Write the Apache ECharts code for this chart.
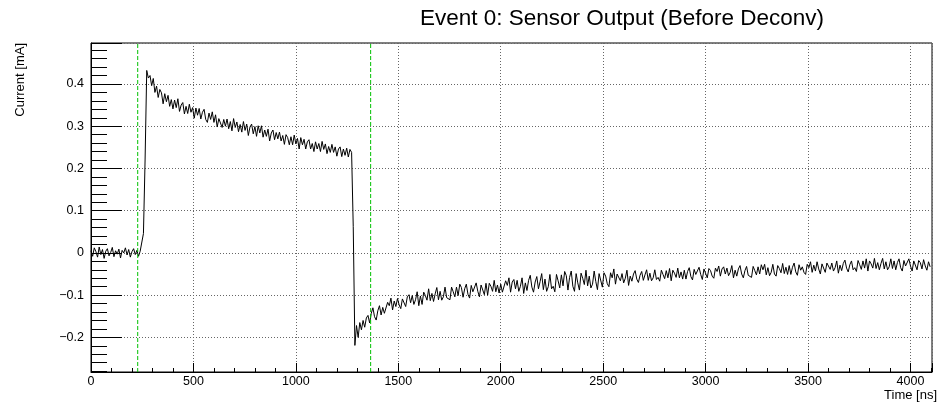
<!DOCTYPE html>
<html>
<head>
<meta charset="utf-8">
<script src="https://cdn.jsdelivr.net/npm/echarts@6/dist/echarts.min.js"></script>
<style>
html,body{margin:0;padding:0;background:#fff;}
#chart{width:938px;height:405px;}
</style>
</head>
<body>
<div id="chart"></div>
<script>
// ---- data (current in mA, one sample every SAMPLE_NS ns starting at 0) ----
const SAMPLE_NS = 8;
const baseline = [0.005,-0.008,0.012,0.003,-0.010,0.014,-0.004,0.008,-0.013,0.004,0.010,-0.007,0.001,0.013,-0.009,0.005,-0.003,0.009,-0.012,0.006,0.000,0.012,-0.005,0.008,-0.010,0.003,0.010,-0.004,0.006,-0.008,0.004,0.001];
const riseEdge = [0.046,0.220,0.432];
const decay = [
0.414,0.420,0.396,0.413,0.380,0.395,0.368,0.387,
0.379,0.353,0.377,0.358,0.373,0.347,0.363,0.341,
0.362,0.344,0.365,0.335,0.350,0.356,0.329,0.347,
0.330,0.352,0.333,0.344,0.319,0.343,0.326,0.342,
0.317,0.333,0.340,0.316,0.309,0.331,0.316,0.334,
0.309,0.327,0.298,0.318,0.321,0.297,0.316,0.300,
0.317,0.294,0.311,0.289,0.318,0.297,0.310,0.287,
0.304,0.286,0.311,0.290,0.305,0.278,0.298,0.305,
0.282,0.299,0.276,0.301,0.284,0.301,0.274,0.291,
0.276,0.293,0.265,0.284,0.291,0.268,0.285,0.270,
0.286,0.265,0.278,0.257,0.280,0.273,0.256,0.275,
0.256,0.279,0.258,0.271,0.246,0.273,0.256,0.269,
0.246,0.263,0.268,0.246,0.259,0.240,0.263,0.246,
0.259,0.240,0.264,0.245,0.258,0.235,0.252,0.238,
0.257,0.238,0.251,0.229,0.246,0.251,0.228,0.246,
0.231,0.248,0.227,0.245,0.238];
const fallEdge = [0.062,-0.219];
const undershoot = [
-0.172,-0.200,-0.165,-0.182,-0.160,-0.176,-0.154,-0.148,
-0.166,-0.143,-0.130,-0.151,-0.159,-0.137,-0.125,-0.147,
-0.129,-0.143,-0.147,-0.117,-0.125,-0.107,-0.135,-0.114,
-0.127,-0.108,-0.123,-0.132,-0.109,-0.112,-0.127,-0.104,
-0.099,-0.118,-0.101,-0.122,-0.111,-0.092,-0.125,-0.102,
-0.122,-0.093,-0.101,-0.112,-0.085,-0.113,-0.096,-0.115,
-0.097,-0.082,-0.111,-0.091,-0.112,-0.104,-0.081,-0.106,
-0.102,-0.111,-0.081,-0.092,-0.104,-0.081,-0.101,-0.074,
-0.082,-0.105,-0.085,-0.074,-0.098,-0.107,-0.077,-0.092,
-0.096,-0.071,-0.091,-0.104,-0.076,-0.079,-0.099,-0.072];
const tailMid = [
-0.100,-0.072,-0.079,-0.091,-0.065,-0.092,-0.076,-0.095,
-0.074,-0.093,-0.097,-0.066,-0.077,-0.059,-0.093,-0.069,
-0.063,-0.085,-0.065,-0.091,-0.079,-0.059,-0.096,-0.071,
-0.089,-0.065,-0.053,-0.081,-0.093,-0.069,-0.056,-0.085,
-0.068,-0.049,-0.087,-0.062,-0.091,-0.080,-0.051,-0.085,
-0.079,-0.092,-0.051,-0.066,-0.083,-0.052,-0.078,-0.044,
-0.054,-0.088,-0.058,-0.043,-0.079,-0.091,-0.049,-0.071,
-0.088,-0.048,-0.060,-0.075,-0.041,-0.078,-0.055,-0.083,
-0.074,-0.043,-0.068,-0.087,-0.049,-0.053,-0.081,-0.047,
-0.055,-0.073,-0.080,-0.047,-0.059,-0.038,-0.074,-0.050,
-0.046,-0.066,-0.049,-0.071,-0.060,-0.041,-0.077,-0.055];
const tailLate = [
-0.067,-0.050,-0.042,-0.062,-0.070,-0.053,-0.044,-0.065,
-0.052,-0.040,-0.065,-0.048,-0.066,-0.059,-0.040,-0.063,
-0.058,-0.067,-0.041,-0.051,-0.061,-0.042,-0.059,-0.037,
-0.066,-0.041,-0.048,-0.058,-0.036,-0.059,-0.045,-0.062,
-0.041,-0.062,-0.044,-0.035,-0.056,-0.064,-0.039,-0.051,
-0.055,-0.034,-0.051,-0.063,-0.038,-0.042,-0.059,-0.037,
-0.042,-0.055,-0.060,-0.036,-0.044,-0.031,-0.055,-0.038,
-0.033,-0.050,-0.036,-0.054,-0.046,-0.030,-0.059,-0.041,
-0.055,-0.038,-0.030,-0.050,-0.059,-0.042,-0.032,-0.053,
-0.049,-0.058,-0.032,-0.042,-0.052,-0.033,-0.050,-0.028,
-0.040,-0.027,-0.052,-0.035,-0.054,-0.046,-0.027,-0.050,
-0.055,-0.030,-0.037,-0.047,-0.025,-0.049,-0.034,-0.051,
-0.030,-0.051,-0.034,-0.024,-0.045,-0.053,-0.028,-0.041,
-0.033,-0.046,-0.051,-0.027,-0.035,-0.021,-0.046,-0.029,
-0.043,-0.021,-0.038,-0.050,-0.026,-0.029,-0.046,-0.024,
-0.022,-0.039,-0.024,-0.043,-0.035,-0.019,-0.048,-0.029,
-0.042,-0.025,-0.017,-0.036,-0.045,-0.028,-0.019,-0.040,
-0.035,-0.044,-0.018,-0.028,-0.039,-0.019,-0.036,-0.014,
-0.043,-0.019,-0.026,-0.036,-0.013,-0.037,-0.023,-0.040,
-0.025,-0.013,-0.038,-0.021,-0.040,-0.033,-0.014,-0.037,
-0.019,-0.040,-0.023,-0.014,-0.035,-0.043,-0.018,-0.031,
-0.035,-0.014,-0.031,-0.043,-0.019,-0.023,-0.040,-0.018,
-0.023,-0.038,-0.016,-0.031,-0.041,-0.021,-0.033];
const windowMarks = [228, 1365];           // ns, green dashed lines
const xTickLabels = [0,500,1000,1500,2000,2500,3000,3500,4000];
const yTickLabels = [-0.2,-0.1,0,0.1,0.2,0.3,0.4];
const titleText = 'Event 0: Sensor Output (Before Deconv)';
const xTitle = 'Time [ns]';
const yTitle = 'Current [mA]';

// ---- build series ----
const Y_MIN = -0.282, Y_MAX = 0.497;
const current = [].concat(baseline, riseEdge, decay, fallEdge, undershoot, tailMid, tailLate);
const waveform = current.map((v, i) => [i * SAMPLE_NS, v]);

const FONT = 'Liberation Sans, Arial, Helvetica, sans-serif';
const GREEN = '#00c000';
const chart = echarts.init(document.getElementById('chart'), null, {renderer: 'canvas'});

function near(v, list, eps) { return list.some(t => Math.abs(t - v) < eps); }

const markSeries = windowMarks.map((t, k) => ({
  type: 'line',
  name: 'window' + k,
  data: [[t, Y_MIN], [t, Y_MAX]],
  symbol: 'none', showSymbol: false,
  lineStyle: {color: GREEN, width: 1, type: [4, 2], opacity: 1},
  itemStyle: {color: GREEN},
  emphasis: {disabled: true},
  silent: true,
  z: 4
}));

chart.setOption({
  animation: false,
  backgroundColor: '#fff',
  title: {
    text: titleText,
    left: 420, top: 7, padding: 0,
    textStyle: {fontFamily: FONT, fontSize: 22.5, fontWeight: 'normal', color: '#000'}
  },
  grid: {
    left: 91, right: 6, top: 43, bottom: 33,
    show: true, borderColor: '#000', borderWidth: 1, backgroundColor: 'transparent',
    containLabel: false, outerBoundsMode: 'none'
  },
  xAxis: {
    type: 'value', min: 0, max: 4105, interval: 500,
    axisLine: {show: true, onZero: false, lineStyle: {color: '#000', width: 1}},
    axisTick: {show: true, inside: true, length: 9, lineStyle: {color: '#000', width: 1}},
    minorTick: {show: true, splitNumber: 5, length: 4, lineStyle: {color: '#000', width: 1}},
    splitLine: {show: true, lineStyle: {color: '#666', width: 1, type: [1, 2]}},
    axisLabel: {
      fontFamily: FONT, fontSize: 12.5, color: '#000', margin: 3,
      formatter: v => near(v, xTickLabels, 1e-6) ? String(Math.round(v)) : ''
    }
  },
  yAxis: {
    type: 'value', min: Y_MIN, max: Y_MAX, minInterval: 0.1, maxInterval: 0.1, splitNumber: 8,
    axisLine: {show: true, onZero: false, lineStyle: {color: '#000', width: 1}},
    axisTick: {show: true, inside: true, length: 31, lineStyle: {color: '#000', width: 1}},
    minorTick: {show: true, splitNumber: 5, length: 16, lineStyle: {color: '#000', width: 1}},
    splitLine: {show: true, lineStyle: {color: '#666', width: 1, type: [1, 2]}},
    axisLabel: {
      fontFamily: FONT, fontSize: 12.5, color: '#000', margin: 7,
      formatter: v => {
        if (!near(v, yTickLabels, 1e-6)) return '';
        const r = Math.round(v * 10) / 10;
        if (r === 0) return '0';
        return (r < 0 ? '\u2212' : '') + Math.abs(r).toString();
      }
    }
  },
  graphic: [{
    type: 'text', x: 20, y: 43, rotation: Math.PI / 2,
    style: {text: yTitle, fontFamily: FONT, fontSize: 13, fill: '#000', align: 'right', verticalAlign: 'middle'}
  }, {
    type: 'text', x: 937, y: 395,
    style: {text: xTitle, fontFamily: FONT, fontSize: 13, fill: '#000', align: 'right', verticalAlign: 'middle'}
  }],
  series: [{
    type: 'line',
    name: 'waveform',
    data: waveform,
    symbol: 'none', showSymbol: false, sampling: null,
    lineStyle: {color: '#000', width: 1},
    itemStyle: {color: '#000'},
    emphasis: {disabled: true},
    silent: true,
    z: 3
  }].concat(markSeries)
});
</script>
</body>
</html>
